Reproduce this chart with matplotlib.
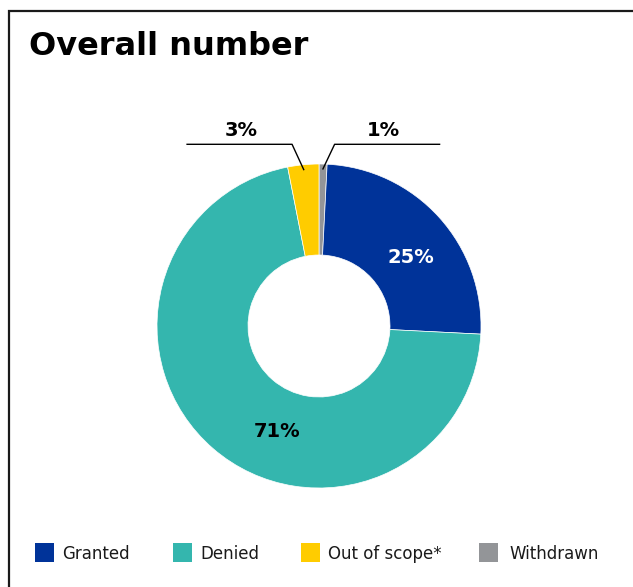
import numpy as np
import matplotlib
matplotlib.use('Agg')
import matplotlib.pyplot as plt
from matplotlib.patches import Rectangle

plt.rcParams['font.family'] = ['DejaVu Sans']

# data
categories = ['Granted', 'Denied', 'Out of scope*', 'Withdrawn']
shares = [25.0, 71.1, 3.1, 0.8]
share_labels = ['25%', '71%', '3%', '1%']
colors = ['#003399', '#34B6AE', '#FFCC00', '#939598']

# pie goes clockwise from 12 o'clock: Withdrawn, Granted, Denied, Out of scope
pie_order = [3, 0, 1, 2]

W, H = 633, 587
fig = plt.figure(figsize=(W / 100, H / 100), dpi=100)

def fx(px):
    return px / W

def fy(py):
    return 1 - py / H

# frame (right and bottom edges fall outside the picture)
fig.add_artist(Rectangle((fx(8.5), -0.1), 1.2, fy(10.5) + 0.1, transform=fig.transFigure,
                         fill=False, edgecolor='#1a1a1a', linewidth=1.6))

fig.text(fx(29), fy(55), 'Overall number', fontsize=23, fontweight='bold', va='baseline')

# donut: centre (319, 326) px, outer radius 162 px, hole radius 71 px
cx, cy, r_out, r_in = 319, 326, 162, 71
ax = fig.add_axes([fx(cx - r_out), fy(cy + r_out), 2 * r_out / W, 2 * r_out / H])
wedges, _ = ax.pie([shares[i] for i in pie_order],
                   colors=[colors[i] for i in pie_order],
                   startangle=90, counterclock=False, radius=1,
                   wedgeprops=dict(width=1 - r_in / r_out, edgecolor='white', linewidth=0.5))
ax.set_xlim(-1, 1)
ax.set_ylim(-1, 1)
ax.axis('off')

# leader lines for the two thin slices
for w, side in [(wedges[3], -1), (wedges[0], 1)]:
    mid = np.deg2rad((w.theta1 + w.theta2) / 2)
    tx, ty = 0.97 * np.cos(mid), 0.97 * np.sin(mid)
    ex, ey = tx + side * 0.072, (cy - 144.3) / r_out
    ax.plot([tx, ex, ex + side * 0.648], [ty, ey, ey], color='black', lw=1, clip_on=False)

# percentage labels (pixel positions: centre x, baseline y)
label_pos = {'Granted': (411, 263), 'Denied': (277, 437),
             'Out of scope*': (241, 136), 'Withdrawn': (383.5, 136)}
label_col = {'Granted': 'white', 'Denied': 'black', 'Out of scope*': 'black', 'Withdrawn': 'black'}
for cat, lab in zip(categories, share_labels):
    px, py = label_pos[cat]
    fig.text(fx(px), fy(py), lab, fontsize=14, fontweight='bold', color=label_col[cat],
             ha='center', va='baseline')

# legend
box_x = [35, 173, 301, 479]
text_x = [62, 200, 328, 509]
for cat, col, bx, tx in zip(categories, colors, box_x, text_x):
    fig.add_artist(Rectangle((fx(bx), fy(562)), 19 / W, 19 / H, transform=fig.transFigure,
                             facecolor=col, edgecolor='none'))
    fig.text(fx(tx), fy(559), cat, fontsize=12, va='baseline', color='#1a1a1a')

fig.savefig('out.png', dpi=100, facecolor='white')
